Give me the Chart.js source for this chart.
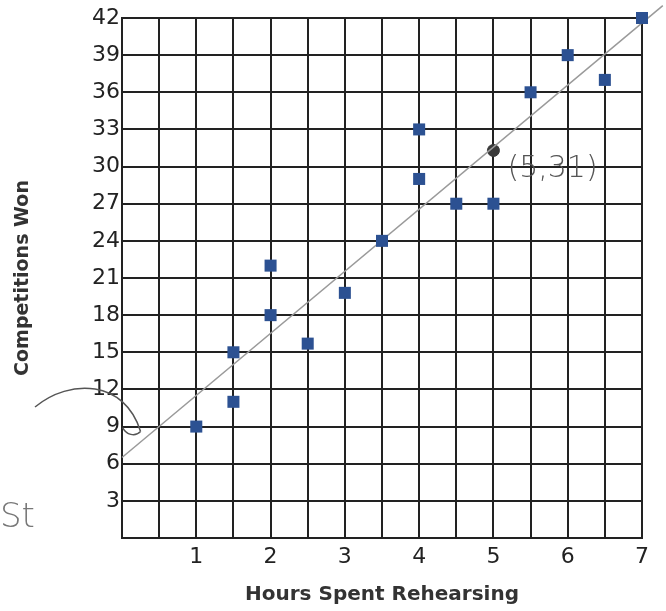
<!DOCTYPE html>
<html>
<head>
<meta charset="utf-8">
<script src="https://cdn.jsdelivr.net/npm/chart.js@4/dist/chart.umd.min.js"></script>
<style>
  html, body { margin: 0; padding: 0; background: #fff; }
  #wrap { width: 666px; height: 611px; }
</style>
</head>
<body>
<div id="wrap"><canvas id="myChart" width="666" height="611"></canvas></div>
<script>
// hours rehearsed vs competitions won
const hours = [1, 1.5, 1.5, 2, 2, 2.5, 3, 3.5, 4, 4, 4.5, 5, 5.5, 6, 6.5, 7];
const wins = [9, 15, 11, 22, 18, 15.7, 19.8, 24, 33, 29, 27, 27, 36, 39, 37, 42];

// hand-drawn line of fit and marked point
const fitX = [0, 7.28];
const fitY = [6.5, 43];
const markX = [5];
const markY = [31.3];
const markLabel = "(5,31)";

const toPoints = (xs, ys) => xs.map((x, i) => ({ x: x, y: ys[i] }));

const notes = {
  id: "notes",
  afterDraw(chart) {
    const ctx = chart.ctx;
    const xs = chart.scales.x;
    const ys = chart.scales.y;
    ctx.save();
    ctx.fillStyle = "#555";
    ctx.font = "200 30px 'DejaVu Sans'";
    ctx.textBaseline = "middle";
    ctx.fillText(markLabel, xs.getPixelForValue(markX[0]) + 14, ys.getPixelForValue(markY[0]) + 19);

    // arrow pointing at the intercept
    ctx.strokeStyle = "#555";
    ctx.lineWidth = 1.5;
    const ax = xs.getPixelForValue(0.25);
    const ay = ys.getPixelForValue(8.6);
    ctx.beginPath();
    ctx.moveTo(35, 407);
    ctx.bezierCurveTo(70, 378, 125, 380, ax, ay);
    ctx.moveTo(ax, ay);
    ctx.bezierCurveTo(ax - 6, ay + 6, ax - 14, ay + 3, ax - 18, ay - 4);
    ctx.stroke();

    ctx.font = "200 34px 'DejaVu Sans'";
    ctx.fillStyle = "#777";
    ctx.fillText("St", 0, 518);
    ctx.restore();
  },
};

const config = {
  type: "scatter",
  data: {
    datasets: [
      {
        data: toPoints(hours, wins),
        pointStyle: "rect",
        pointRadius: 8.5,
        pointHoverRadius: 8.5,
        backgroundColor: "#2c5192",
        borderColor: "#2c5192",
        borderWidth: 0,
        clip: false,
      },
      {
        type: "line",
        data: toPoints(fitX, fitY),
        borderColor: "#9a9a9a",
        borderWidth: 1.5,
        pointRadius: 0,
        clip: false,
      },
      {
        data: toPoints(markX, markY),
        pointStyle: "circle",
        pointRadius: 6,
        backgroundColor: "#3a3a3a",
        borderColor: "#3a3a3a",
      },
    ],
  },
  options: {
    responsive: false,
    animation: false,
    devicePixelRatio: 1,
    layout: { padding: { top: 18, right: 24, left: 0, bottom: 0 } },
    plugins: {
      legend: { display: false },
      tooltip: { enabled: false },
    },
    scales: {
      x: {
        type: "linear",
        min: 0,
        max: 7,
        afterFit: (s) => { s.height = 73; },
        grid: { color: "#222", lineWidth: 2, drawTicks: false },
        border: { color: "#222", width: 2 },
        ticks: {
          stepSize: 0.5,
          autoSkip: false,
          maxRotation: 0,
          padding: 6,
          color: "#222",
          font: { family: "DejaVu Sans", size: 22 },
          callback: (v) => (v % 1 === 0 && v !== 0 ? v : ""),
        },
        title: {
          display: true,
          text: "Hours Spent Rehearsing",
          color: "#333",
          font: { family: "DejaVu Sans", size: 20, weight: "bold" },
          padding: { top: 0, bottom: 4 },
        },
      },
      y: {
        min: 0,
        max: 42,
        afterFit: (s) => { s.width = 122; },
        grid: { color: "#222", lineWidth: 2, drawTicks: false },
        border: { color: "#222", width: 2 },
        ticks: {
          stepSize: 3,
          padding: 2,
          color: "#222",
          font: { family: "DejaVu Sans", size: 22 },
          callback: (v) => (v === 0 ? "" : v),
        },
        title: {
          display: true,
          text: "Competitions Won",
          color: "#333",
          font: { family: "DejaVu Sans", size: 19, weight: "bold" },
          padding: { top: 12, bottom: 0 },
        },
      },
    },
  },
  plugins: [notes],
};

new Chart(document.getElementById("myChart").getContext("2d"), config);
</script>
</body>
</html>
